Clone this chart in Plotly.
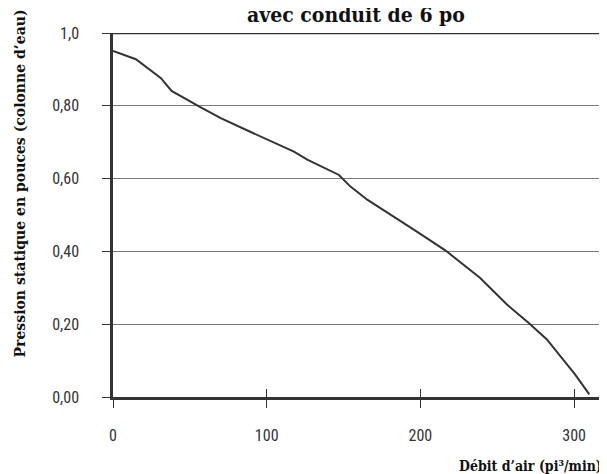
import plotly.graph_objects as go

flow = [0, 14.9, 31.2, 38.1, 57.1, 70.1, 89.6, 117.7, 126.4, 135, 141.6, 147, 154.5, 165.4, 195.7, 216.2, 238.9, 256.3, 270.3, 282.3, 300.6, 309.9]
pressure = [0.951, 0.928, 0.876, 0.841, 0.796, 0.766, 0.728, 0.674, 0.652, 0.635, 0.62, 0.61, 0.578, 0.542, 0.46, 0.403, 0.327, 0.254, 0.204, 0.158, 0.062, 0.007]

y_ticks = [0, 0.2, 0.4, 0.6, 0.8, 1.0]
y_labels = ["0,00", "0,20", "0,40", "0,60", "0,80", "1,0"]
x_ticks = [0, 100, 200, 300]
x_labels = ["0", "100", "200", "300"]

tick_font = dict(family="Liberation Sans Narrow, Roboto Condensed, Roboto, sans-serif", size=16, color="#333333")
title_font = dict(family="DejaVu Serif Condensed, Liberation Serif, serif", size=16, color="#111111")

fig = go.Figure()
fig.add_trace(go.Scatter(x=flow, y=pressure, mode="lines",
                         line=dict(color="#333333", width=2), showlegend=False, hoverinfo="skip"))
# invisible trace for the overlay axis that draws the inner half of the x ticks
fig.add_trace(go.Scatter(x=[0], y=[0], xaxis="x2", mode="markers", marker=dict(opacity=0),
                         showlegend=False, hoverinfo="skip"))

# the page body has an 8px margin, so the figure is 8px smaller and margins shifted
fig.update_layout(
    width=599, height=466,
    margin=dict(l=105, r=0, t=25, b=77),
    paper_bgcolor="white", plot_bgcolor="white",
    xaxis=dict(range=[0, 321.4], tickvals=x_ticks, ticktext=x_labels, ticks="outside", ticklen=8,
               tickwidth=1.2, tickcolor="#333333", showgrid=False, zeroline=False,
               showline=True, linecolor="#333333", linewidth=2.5, tickfont=tick_font,
               ticklabelstandoff=14),
    xaxis2=dict(range=[0, 321.4], overlaying="x", tickvals=x_ticks, ticks="inside", ticklen=8,
                tickwidth=1.2, tickcolor="#333333", showticklabels=False, showgrid=False,
                zeroline=False, showline=False, side="bottom"),
    yaxis=dict(range=[0, 1], tickvals=y_ticks, ticktext=y_labels, ticks="outside", ticklen=8,
               tickwidth=1.2, tickcolor="#333333", showgrid=True, gridcolor="#7a7a7a", gridwidth=1.2,
               zeroline=False, showline=True, linecolor="#333333", linewidth=2.5, tickfont=tick_font,
               ticklabelstandoff=20),
    shapes=[dict(type="line", xref="paper", yref="y", x0=0, x1=1, y0=1, y1=1,
                 line=dict(color="#333333", width=2.5))],
    annotations=[
        dict(text="<b>avec conduit de 6 po</b>", xref="paper", yref="paper", x=0.492, y=1,
             yshift=19, xanchor="center", yanchor="middle", showarrow=False,
             font=dict(title_font, size=21)),
        dict(text="<b>Pression statique en pouces (colonne d’eau)</b>", xref="paper", yref="paper",
             x=0, xshift=-93, y=0.5865, xanchor="center", yanchor="middle", textangle=-90,
             showarrow=False, font=dict(title_font, size=15.6)),
        dict(text="<b>Débit d’air (pi³/min)</b>", xref="paper", yref="paper", x=1, xshift=-3,
             y=0, yshift=-69, xanchor="right", yanchor="middle", showarrow=False,
             font=dict(title_font, size=14)),
    ],
)

fig.write_html("out.html")
